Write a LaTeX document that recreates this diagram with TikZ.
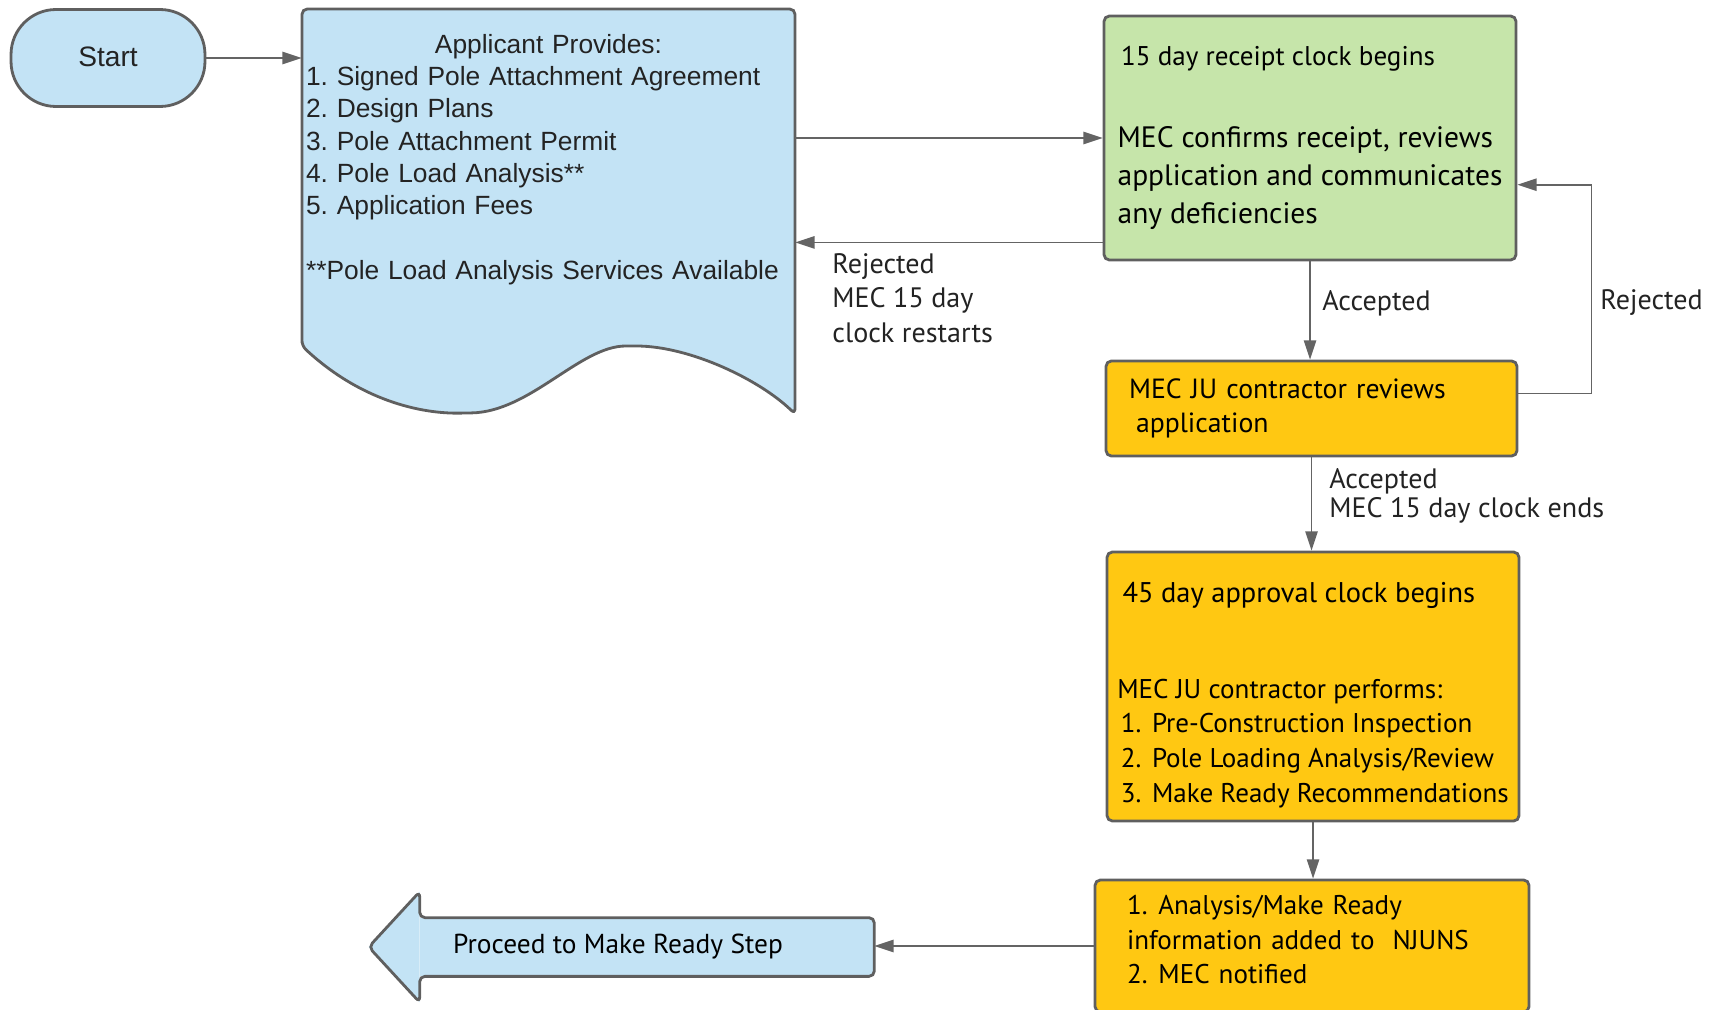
\documentclass[tikz,border=0pt]{standalone}
\usepackage{fontspec}
\setmainfont{PT Sans}
\newfontfamily\arialfont{Liberation Sans}
\usetikzlibrary{arrows.meta,calc}
\frenchspacing

\definecolor{boxblue}{RGB}{195,227,245}
\definecolor{boxgreen}{RGB}{198,229,170}
\definecolor{boxgold}{RGB}{255,200,18}
\definecolor{edgegray}{RGB}{95,95,95}
\definecolor{linegray}{RGB}{100,100,100}
\definecolor{inkgray}{RGB}{35,35,35}

\tikzset{
  stepbox/.style={draw=edgegray, line width=1.6pt, rounded corners=3pt, align=left,
    inner ysep=0pt, text=black, font=\fontsize{15.4}{19.7}\selectfont},
  flow/.style={draw=linegray, line width=1pt, -{Triangle[length=11pt,width=7pt]}},
  lbl/.style={font=\fontsize{16}{19.6}\selectfont, text=inkgray, align=left, inner sep=0pt},
}

\begin{document}
\begin{tikzpicture}[x=0.02cm, y=-0.02cm]
  \useasboundingbox (0,0) rectangle (1720,1010);

  %%% start and applicant sheet
  \node[draw=edgegray, line width=1.6pt, fill=boxblue, rounded corners=0.9cm,
    minimum width=3.88cm, minimum height=1.94cm, text=inkgray,
    font=\arialfont\fontsize{16}{19}\selectfont] (start) at (108,58) {\raisebox{2pt}{Start}};

  \draw[draw=edgegray, line width=1.6pt, fill=boxblue, rounded corners=3pt]
    (302,346) -- (302,9) -- (795,9) -- (795,414)
    .. controls (760,380) and (690,346) .. (631,346)
    .. controls (580,346) and (530,412) .. (466,413)
    .. controls (420,414) and (360,400) .. (302,346) -- cycle;
  \node[anchor=north, minimum width=9.86cm, text width=9.7cm, inner xsep=0.08cm,
    inner ysep=14pt, align=left, text=inkgray,
    font=\arialfont\fontsize{15}{18.4}\selectfont] (doc) at (548.5,9)
    {\centering Applicant Provides:\par
     \raggedright
     1. Signed Pole Attachment Agreement\\
     2. Design Plans\\
     3. Pole Attachment Permit\\
     4. Pole Load Analysis**\\
     5. Application Fees\\[18.4pt]
     **Pole Load Analysis Services Available};

  %%% MEC steps
  \node[stepbox, fill=boxgreen, minimum width=8.24cm, minimum height=4.88cm,
    font=\fontsize{16.8}{21.5}\selectfont] (receipt) at (1310,138)
    {\hspace*{2pt}{\fontsize{15.4}{21.5}\selectfont 15 day receipt clock begins}\\[25pt]
     MEC confirms receipt, reviews\\
     application and communicates\\
     any deficiencies};
  \node[stepbox, fill=boxgold, minimum width=8.22cm, minimum height=1.9cm,
    text width=7.3cm, inner xsep=0.46cm, font=\fontsize{15.8}{19.5}\selectfont] (review) at (1311.5,408.5)
    {MEC JU contractor reviews\\
     \hspace*{4pt}application};
  \node[stepbox, fill=boxgold, minimum width=8.24cm, minimum height=5.38cm] (approval) at (1313,686.5)
    {\rule{0pt}{21pt}\hspace*{3pt}{\fontsize{16.2}{19.7}\selectfont 45 day approval clock begins}\\[35pt]
     MEC JU contractor performs:\\
     \hspace*{2pt}1. \hspace{2pt}Pre-Construction Inspection\\
     \hspace*{2pt}2. \hspace{2pt}Pole Loading Analysis/Review\\
     \hspace*{2pt}3. \hspace{2pt}Make Ready Recommendations};
  \node[stepbox, fill=boxgold, minimum width=8.68cm, minimum height=2.64cm,
    text width=7.4cm, inner xsep=0.64cm] (njuns) at (1312,946)
    {1. \hspace{1pt}Analysis/Make Ready\\
     information added to \ NJUNS\\
     2. \hspace{1pt}MEC notified\rule[-7.5pt]{0pt}{1pt}};

  %%% exit arrow
  \node[fill=boxblue, minimum width=9.08cm, minimum height=1.16cm, inner sep=0pt,
    text=black, font=\fontsize{15.6}{19}\selectfont] (proceed) at (647,947)
    {Proceed to Make Ready Step\hspace*{1.16cm}};
  \coordinate (tip) at ($(proceed.west)+(-51,0)$);
  \fill[boxblue] (proceed.north west) -- ++(0,-26) -- (tip) -- ($(proceed.south west)+(0,26)$)
    -- (proceed.south west) -- cycle;
  \draw[draw=edgegray, line width=1.6pt, rounded corners=3pt]
    (proceed.north east) -- (proceed.north west) -- ++(0,-26) -- (tip)
    -- ($(proceed.south west)+(0,26)$) -- (proceed.south west) -- (proceed.south east) -- cycle;

  %%% connectors
  \draw[flow] (start.east) -- (start.east -| doc.west);
  \draw[flow] (doc.east |- receipt.west) -- (receipt.west);
  \coordinate (backin) at ([yshift=10.8pt]receipt.south west);
  \draw[flow] (backin) -- (backin -| doc.east);
  \draw[flow] (receipt.south) -- (receipt.south |- review.north);
  \draw[flow] ([yshift=8.5pt]review.east) -- ++(73,0) |- ([yshift=-26.6pt]receipt.east);
  \draw[flow] (review.south) -- (review.south |- approval.north);
  \draw[flow] (approval.south) -- (approval.south |- njuns.north);
  \draw[flow] (njuns.west) -- (njuns.west -| proceed.east);

  %%% labels
  \node[lbl, anchor=north west] (restart) at (832,253)
    {Rejected\\MEC 15 day\\clock restarts};
  \node[lbl, anchor=west] (accone) at (1322,303) {Accepted};
  \node[lbl, anchor=west] (rejtwo) at (1600,303) {Rejected};
  \node[lbl, anchor=north west, font=\fontsize{16}{16.8}\selectfont] (acctwo) at (1329,468)
    {Accepted\\MEC 15 day clock ends};
\end{tikzpicture}
\end{document}
